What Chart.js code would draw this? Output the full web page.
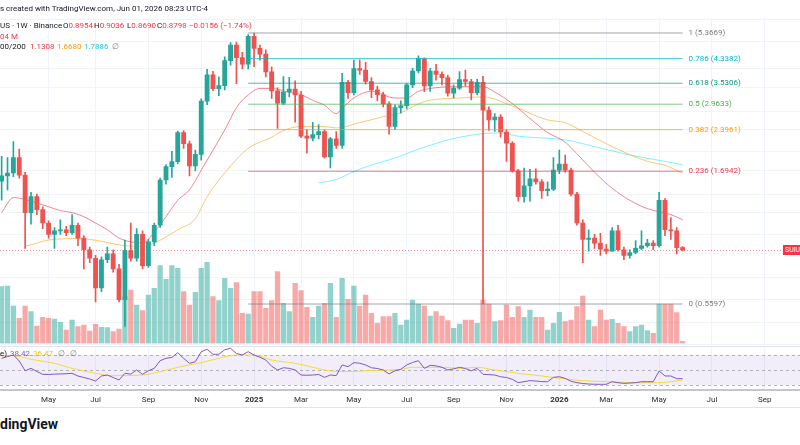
<!DOCTYPE html>
<html><head><meta charset="utf-8">
<script src="https://cdn.jsdelivr.net/npm/chart.js@4/dist/chart.umd.min.js"></script>
<style>
html,body{margin:0;padding:0;width:800px;height:445px;overflow:hidden;background:#fff;font-family:Roboto,'Noto Sans',sans-serif;}
canvas{position:absolute;left:0;}
.t{position:absolute;white-space:nowrap;font-size:8px;line-height:10px;color:#131722;}
.r{color:#f23645}.o{color:#ff9800}.c{color:#22c5d8}.g{color:#787b86}.p{color:#7e57c2}.y{color:#e8c51c}
.hl{position:absolute;left:0;width:800px;height:1px;background:#e0e3eb;}
</style></head><body>
<canvas id="main" width="800" height="347" style="top:0;width:800px;height:347px"></canvas>
<canvas id="rsi" width="800" height="61" style="top:347px;width:800px;height:61px"></canvas>
<div class="hl" style="top:346px"></div>
<div class="hl" style="top:407px"></div>

<div class="t" style="left:0;top:4px">s created with TradingView.com, Jun 01, 2026 08:23 UTC-4</div>
<div class="t" style="left:0;top:21px">US · 1W · Binance</div>
<div class="t" style="left:63px;top:21px">O<span class="r">0.8954</span></div>
<div class="t" style="left:94px;top:21px">H<span class="r">0.9036</span></div>
<div class="t" style="left:127px;top:21px">L<span class="r">0.8690</span></div>
<div class="t" style="left:157px;top:21px">C<span class="r">0.8798</span></div>
<div class="t r" style="left:189px;top:21px">−0.0156 (−1.74%)</div>
<div class="t r" style="left:0;top:32px">04 M</div>
<div class="t" style="left:0;top:42px">00/200</div>
<div class="t r" style="left:30px;top:42px">1.1308</div>
<div class="t o" style="left:57px;top:42px">1.6680</div>
<div class="t c" style="left:84px;top:42px">1.7886</div>
<div class="t g" style="left:112px;top:42px">∅</div>
<div class="t" style="left:0;top:349px">e)</div>
<div class="t p" style="left:10px;top:349px">38.42</div>
<div class="t y" style="left:33px;top:349px">36.47</div>
<div class="t g" style="left:58px;top:349px">∅</div>
<div class="t g" style="left:70px;top:349px">∅</div>
<div class="t" style="left:783px;top:245px;height:10px;line-height:10px;font-size:7px;background:#f23645;color:#fff;padding-left:2px;width:40px">SUIUSDT</div>
<div style="position:absolute;left:0;top:416px;font-size:14px;font-weight:bold;color:#131722;white-space:nowrap">dingView</div>

<script>
// ---------- DATA ----------
const firstWeek = '2024-03-11'; // Monday of first weekly candle
const openP = [1.56,1.63,1.67,1.90,1.64,1.20,1.37,1.23,1.10,1.00,1.03,1.04,1.015,1.08,0.97,0.88,0.82,0.64,0.81,0.85,0.75,0.58,0.875,0.82,1.00,0.77,0.94,1.08,1.575,1.76,1.835,2.34,2.13,1.77,1.95,3.04,3.79,3.37,3.46,4.26,4.85,4.37,4.14,5.22,4.72,4.50,3.88,3.31,2.99,3.28,3.36,3.20,2.27,2.23,2.30,2.36,1.91,2.22,2.10,3.56,3.26,3.99,3.94,3.58,3.34,3.21,2.97,2.46,2.88,2.93,3.48,3.91,4.34,3.45,3.91,3.80,3.70,3.25,3.39,3.64,3.58,3.26,3.56,2.82,2.60,2.66,2.35,2.14,1.70,1.37,1.50,1.59,1.55,1.44,1.46,1.71,1.80,1.71,1.40,1.10,0.96,0.97,0.93,0.885,0.87,1.03,0.88,0.84,0.86,0.89,0.91,0.93,0.91,1.33,1.04,1.03,0.8954];
const highP = [1.92,1.90,2.17,2.04,1.68,1.42,1.40,1.26,1.12,1.06,1.13,1.07,1.18,1.10,0.99,0.90,0.84,0.83,0.90,0.88,0.78,0.955,1.10,1.05,1.03,0.96,1.10,1.60,1.79,2.00,2.37,2.38,2.18,2.02,3.10,3.96,3.90,3.72,4.40,4.95,4.98,4.57,5.30,5.3669,4.85,4.66,4.05,3.40,3.73,3.71,3.60,3.30,2.40,2.55,2.50,2.40,2.25,2.36,3.83,3.62,4.28,4.29,4.20,3.70,3.45,3.28,3.02,2.95,3.05,3.52,4.00,4.44,4.36,4.00,4.13,3.88,3.78,3.48,3.89,3.94,3.65,3.65,3.74,2.90,2.74,2.72,2.40,2.17,1.72,1.74,1.72,1.73,1.58,1.55,1.90,2.02,1.94,1.74,1.42,1.13,1.04,1.00,1.01,0.92,1.06,1.08,0.90,0.88,0.95,1.03,0.96,0.95,1.42,1.35,1.15,1.06,0.9036];
const lowP = [1.33,1.45,1.62,1.60,0.89,1.09,1.18,1.05,0.97,0.89,1.00,0.99,1.00,0.91,0.75,0.79,0.57,0.62,0.79,0.73,0.57,0.464,0.80,0.80,0.75,0.76,0.91,1.06,1.52,1.61,1.80,2.05,1.63,1.70,1.86,2.95,3.31,3.18,3.34,4.10,3.52,3.98,3.98,4.05,4.28,3.72,3.11,2.42,2.95,3.15,2.55,2.24,1.97,2.18,2.22,1.89,1.74,2.05,2.05,3.11,3.20,3.80,3.50,3.13,3.05,2.90,2.31,2.40,2.75,2.85,3.40,3.85,3.29,3.30,3.62,3.48,3.17,3.12,3.35,3.45,3.07,3.20,0.5597,2.38,2.36,2.25,1.84,1.68,1.32,1.31,1.32,1.52,1.35,1.38,1.44,1.66,1.68,1.38,1.08,0.79,0.87,0.89,0.84,0.85,0.87,0.87,0.81,0.82,0.85,0.88,0.90,0.88,0.90,0.99,0.96,0.85,0.8690];
const closeP = [1.63,1.67,1.90,1.64,1.20,1.37,1.23,1.10,1.00,1.03,1.04,1.015,1.08,0.97,0.88,0.82,0.64,0.81,0.85,0.75,0.58,0.875,0.82,1.00,0.77,0.94,1.08,1.575,1.76,1.835,2.34,2.13,1.77,1.95,3.04,3.79,3.37,3.46,4.26,4.85,4.37,4.14,5.22,4.72,4.50,3.88,3.31,2.99,3.28,3.36,3.20,2.27,2.23,2.30,2.36,1.91,2.22,2.10,3.56,3.26,3.99,3.94,3.58,3.34,3.21,2.97,2.46,2.88,2.93,3.48,3.91,4.34,3.45,3.91,3.80,3.70,3.25,3.39,3.64,3.58,3.26,3.56,2.82,2.60,2.66,2.35,2.14,1.70,1.37,1.50,1.59,1.55,1.44,1.46,1.71,1.80,1.71,1.40,1.10,0.96,0.97,0.93,0.885,0.87,1.03,0.88,0.84,0.86,0.89,0.91,0.93,0.91,1.33,1.04,1.03,0.8954,0.8798];
const volumeM = [1136,1150,750,504,750,636,350,524,504,490,424,270,470,336,370,250,384,324,316,236,290,936,1070,770,656,970,1104,1556,1284,1556,1504,1036,770,1024,1504,1624,936,856,1304,1104,1216,604,590,1036,1036,704,856,1436,804,636,1204,1056,724,524,750,804,1204,524,1304,884,1150,750,970,604,404,536,536,604,370,470,870,790,750,550,636,550,456,304,390,470,470,404,870,790,436,456,770,524,736,524,670,524,524,270,404,624,436,470,736,950,470,336,670,470,484,404,336,236,336,370,256,204,790,790,790,616,42.04];
const rsiVals = [65.6,68,70,62,49,52.2,48,44.2,44,44.5,44.7,45,45.6,42,40,38,35.3,42,43.3,40,36.7,45.6,44.5,50,44.2,49,52.2,62.4,65.6,66.7,73.1,65.6,58.9,61,74.4,77.6,70.9,71,77,78.9,72,70,74.4,70,67,63.3,55,50,53,52.2,50,43.3,43,43.3,44,40.2,43.3,42.5,56.7,54.4,59.8,59,56.7,53,52,50,44.7,49,50.9,56.7,60,62.4,52.2,56.2,55.5,53.6,50,51.5,53.6,52,49,52.2,44.2,43.8,43.3,41,40,37.6,33.1,34.5,35.8,35.3,34.5,34.4,40.2,41,38.9,35,33.1,32,31.3,31,30.9,30.9,34.4,33,32.2,32.6,33.1,34.4,34.4,34.4,48.7,42,42,38.4,38.42];
// RSI-based MA, read at sample weeks
const rsiMaWeeks = [0,2,5,9,12,16,19,24,27,30,34,37,40,43,46,50,53,56,59,62,68,70,75,78,81,84,88,92,95,99,103,108,112,116];
const rsiMaVals  = [68.7,69,64.2,58.9,52.2,45.6,42.4,43.3,47.8,53.6,59.8,65.6,70,70,63.3,58.9,53.6,48.7,47.8,49,50.9,53.6,53.6,52.2,53.6,50,45.6,42,38.9,35.8,34.4,33.1,33.1,36.47];
// Moving averages on price, read at sample weeks
const ma20Weeks = [0,2,4,6,8,10,12,14,16,18,20,22,24,26,28,30,32,34,36,38,40,42,44,46,49,51,53,55,57,58,60,63,67,69,71,74,78,82,84,87,90,93,96,98,101,104,107,110,112,114,116];
const ma20Vals  = [1.20,1.36,1.34,1.30,1.26,1.22,1.20,1.16,1.10,1.04,0.97,0.94,0.93,1.02,1.16,1.33,1.45,1.71,2.02,2.39,2.88,3.20,3.38,3.38,3.27,3.21,3.06,2.94,2.74,2.86,3.12,3.30,3.12,3.12,3.30,3.40,3.43,3.43,3.28,2.98,2.63,2.34,2.16,1.96,1.68,1.47,1.33,1.24,1.21,1.18,1.1308];
const ma50Weeks = [4,6,8,13,17,20,24,26,30,33,35,39,42,46,48,51,55,57,61,65,68,72,78,82,87,93,96,99,104,110,113,116];
const ma50Vals  = [0.905,0.93,0.955,0.966,0.945,0.916,0.905,0.93,1.04,1.14,1.37,1.77,2.05,2.25,2.38,2.46,2.46,2.43,2.54,2.67,2.76,3.03,3.12,3.15,2.92,2.60,2.54,2.36,2.08,1.84,1.78,1.668];
const ma100Weeks = [54,57,60,63,67,70,72,76,79,82,85,88,96,101,107,113,116];
const ma100Vals  = [1.54,1.58,1.69,1.785,1.89,2.0,2.07,2.20,2.27,2.32,2.33,2.27,2.20,2.08,1.94,1.84,1.7886];
// Fibonacci retracement
const fibLevels = [1,0.786,0.618,0.5,0.382,0.236,0];
const fibPrices = [5.3669,4.3382,3.5306,2.9633,2.3961,1.6942,0.5597];
const fibStartWeek = 42, fibEndWeek = 116;
// Time axis labels
const tickDates  = ['2024-05-06','2024-07-01','2024-09-02','2024-11-04','2025-01-06','2025-03-03','2025-05-05','2025-07-07','2025-09-01','2025-11-03','2026-01-05','2026-03-02','2026-05-04','2026-07-06','2026-09-07'];
const tickLabels = ['May','Jul','Sep','Nov','2025','Mar','May','Jul','Sep','Nov','2026','Mar','May','Jul','Sep'];
const gridPrices = [6.0,5.0,4.0,3.4,2.8,2.4,2.0,1.7,1.4,1.2,1.0,0.85,0.7,0.58,0.48,0.4];

// ---------- LAYOUT / STYLE ----------
const X_MIN = -0.28, X_MAX = 136.0;
const PRICE_MIN = 0.4027, PRICE_MAX = 6.082;
const VOL_MAX = 6510;
const RSI_MIN = 23.33, RSI_MAX = 80.67;
const GRID = '#f0f3fa';
const UP = '#26a69a', DOWN = '#ef5350';
const fibColors = ['#787b86','#00bcd4','#089981','#4caf50','#ff9800','#f23645','#787b86'];
const FONT = "Roboto, 'Noto Sans', sans-serif";
Chart.defaults.font.family = FONT;
Chart.defaults.animation = false;

const DAY = 864e5;
const t0 = Date.parse(firstWeek + 'T00:00:00Z');
const tickIdx = tickDates.map(d => Math.round((Date.parse(d + 'T00:00:00Z') - t0) / (7 * DAY)));
const N = closeP.length;
const idx = Array.from({length: N}, (_, i) => i);
const isUp = idx.map(i => closeP[i] >= openP[i]);
const candleColors = isUp.map(u => u ? UP : DOWN);
const volColors = isUp.map(u => u ? 'rgba(38,166,154,0.5)' : 'rgba(239,83,80,0.5)');
const pts = (ws, vs) => ws.map((w, j) => ({x: w, y: vs[j]}));
const lastClose = closeP[N - 1];

const priceLine = {
  id: 'priceLine',
  beforeDatasetsDraw(chart) {
    const {ctx, chartArea: a} = chart;
    const py = Math.round(chart.scales.y.getPixelForValue(lastClose)) + 0.5;
    ctx.save();
    ctx.strokeStyle = 'rgba(242,54,69,0.55)';
    ctx.lineWidth = 1; ctx.setLineDash([1, 2]);
    ctx.beginPath(); ctx.moveTo(a.left, py); ctx.lineTo(a.right, py); ctx.stroke();
    ctx.restore();
  }
};
const fibText = {
  id: 'fibText',
  afterDatasetsDraw(chart) {
    const {ctx} = chart;
    const x = chart.scales.x.getPixelForValue(fibEndWeek) + 6;
    ctx.save();
    ctx.font = '8px ' + FONT; ctx.textBaseline = 'middle'; ctx.textAlign = 'left';
    fibLevels.forEach((lv, j) => {
      ctx.fillStyle = fibColors[j];
      ctx.fillText(lv + ' (' + fibPrices[j].toFixed(4) + ')', x, chart.scales.y.getPixelForValue(fibPrices[j]));
    });
    ctx.restore();
  }
};

const lineDs = (data, color, order) => ({type: 'line', data, yAxisID: 'y', borderColor: color, borderWidth: 1,
  pointRadius: 0, cubicInterpolationMode: 'monotone', order});

const datasets = [
  {type: 'bar', data: idx.map(i => ({x: i, y: volumeM[i]})), yAxisID: 'yv', backgroundColor: volColors,
   barThickness: 4.6, grouped: false, order: 10},
  lineDs(pts(ma20Weeks, ma20Vals), 'rgba(242,54,69,0.6)', 3),
  lineDs(pts(ma50Weeks, ma50Vals), 'rgba(255,152,0,0.55)', 3),
  lineDs(pts(ma100Weeks, ma100Vals), 'rgba(0,229,255,0.5)', 3),
  {type: 'bar', data: idx.map(i => ({x: i, y: [lowP[i], highP[i]]})), yAxisID: 'y', backgroundColor: candleColors,
   barThickness: 1, grouped: false, order: 2},
  {type: 'bar', data: idx.map(i => ({x: i, y: [openP[i], closeP[i]]})), yAxisID: 'y', backgroundColor: candleColors,
   barThickness: 4.2, minBarLength: 1, grouped: false, order: 1},
];
fibPrices.forEach((p, j) => {
  datasets.push({type: 'line', data: [{x: fibStartWeek, y: p}, {x: fibEndWeek, y: p}], yAxisID: 'y',
    borderColor: fibColors[j] + 'b0', borderWidth: 1, pointRadius: 0, order: 0});
});

new Chart(document.getElementById('main'), {
  type: 'bar',
  data: {datasets},
  options: {
    responsive: false, animation: false,
    layout: {padding: {top: 18, bottom: 3.5, left: 0, right: 0}},
    plugins: {legend: {display: false}, tooltip: {enabled: false}},
    scales: {
      x: {type: 'linear', min: X_MIN, max: X_MAX, offset: false,
          grid: {color: GRID, drawTicks: false, offset: false}, border: {display: false},
          ticks: {display: false},
          afterBuildTicks: s => { s.ticks = tickIdx.map(v => ({value: v})); },
          afterFit: s => { s.height = 0; }},
      y: {type: 'logarithmic', position: 'right', min: PRICE_MIN, max: PRICE_MAX,
          grid: {color: GRID, drawTicks: false}, border: {display: false}, ticks: {display: false},
          afterBuildTicks: s => { s.ticks = gridPrices.map(v => ({value: v})); },
          afterFit: s => { s.width = 0; }},
      yv: {type: 'linear', display: false, min: 0, max: VOL_MAX}
    }
  },
  plugins: [priceLine, fibText]
});

const rsiBand = {
  id: 'rsiBand',
  beforeDatasetsDraw(chart) {
    const {ctx, chartArea: a} = chart, y = chart.scales.y;
    const y70 = y.getPixelForValue(70), y30 = y.getPixelForValue(30), y50 = y.getPixelForValue(50);
    ctx.save();
    ctx.fillStyle = 'rgba(126,87,194,0.1)';
    ctx.fillRect(a.left, y70, a.right - a.left, y30 - y70);
    ctx.strokeStyle = 'rgba(120,123,134,0.55)'; ctx.lineWidth = 1; ctx.setLineDash([3, 3]);
    [y70, y50, y30].forEach(py => { const p = Math.round(py) + 0.5;
      ctx.beginPath(); ctx.moveTo(a.left, p); ctx.lineTo(a.right, p); ctx.stroke(); });
    ctx.restore();
  }
};

new Chart(document.getElementById('rsi'), {
  type: 'line',
  data: {datasets: [
    {data: idx.map(i => ({x: i, y: rsiVals[i]})), borderColor: '#7e57c2', borderWidth: 1, pointRadius: 0, order: 1},
    {data: pts(rsiMaWeeks, rsiMaVals), borderColor: 'rgba(245,214,40,0.9)', borderWidth: 1, pointRadius: 0,
     cubicInterpolationMode: 'monotone', order: 2}
  ]},
  options: {
    responsive: false, animation: false,
    layout: {padding: 0},
    plugins: {legend: {display: false}, tooltip: {enabled: false}},
    scales: {
      x: {type: 'linear', min: X_MIN, max: X_MAX, offset: false,
          grid: {color: GRID, drawTicks: false}, border: {display: true, color: '#c3c6ce', width: 2},
          ticks: {autoSkip: false, maxRotation: 0, padding: 5, color: '#2a2e39',
                  font: ctx => ({size: 8, weight: /^\d{4}$/.test(tickLabels[ctx.index] || '') ? 'bold' : 'normal'}),
                  callback: (v, i) => tickLabels[i]},
          afterBuildTicks: s => { s.ticks = tickIdx.map(v => ({value: v})); },
          afterFit: s => { s.height = 18; }},
      y: {type: 'linear', display: false, min: RSI_MIN, max: RSI_MAX}
    }
  },
  plugins: [rsiBand]
});
</script>
</body></html>
